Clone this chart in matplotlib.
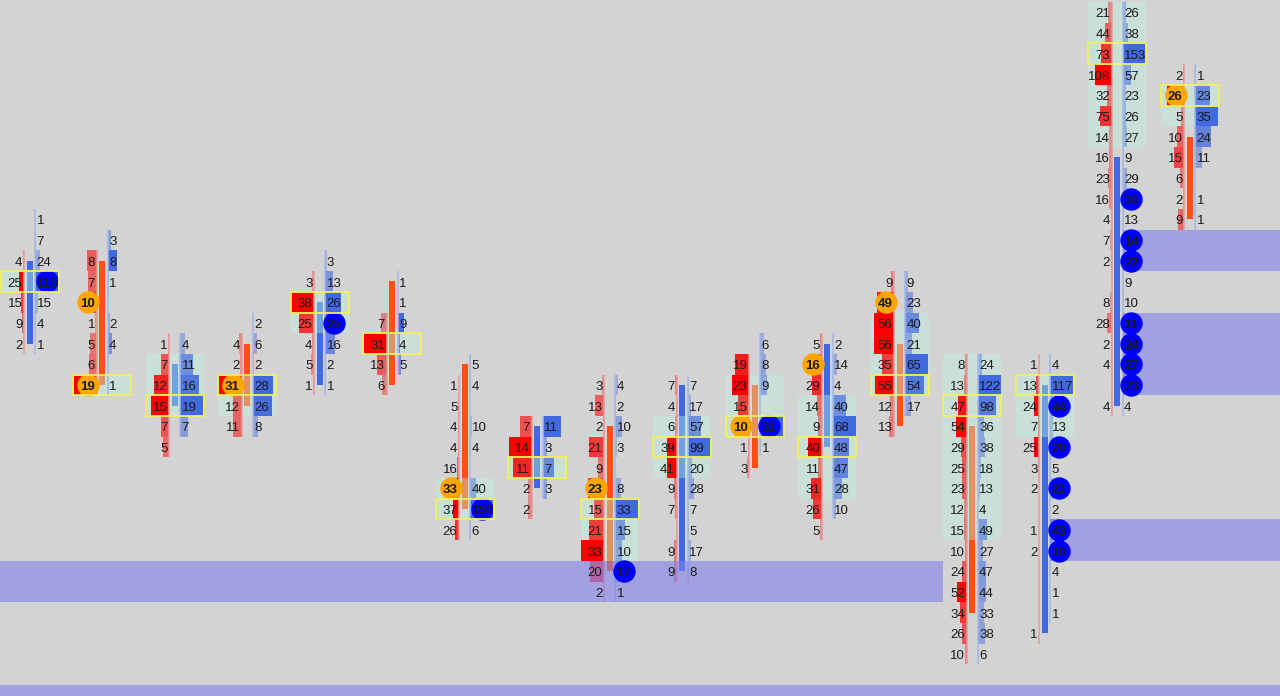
import numpy as np
import matplotlib.pyplot as plt
from matplotlib.patches import Rectangle

plt.rcParams['font.family'] = ['Liberation Sans', 'DejaVu Sans']

# footprint candles, price in ticks, rows listed from the high downwards
highs = [90, 89, 84, 85, 88, 87, 83, 80, 82, 82, 84, 84, 87, 83, 83, 100, 97]
bids = [
    [0, 0, 4, 25, 15, 9, 2],
    [0, 8, 7, 10, 1, 5, 6, 19],
    [1, 7, 12, 15, 7, 5],
    [0, 4, 2, 31, 12, 11],
    [0, 3, 38, 25, 4, 5, 1],
    [0, 0, 7, 31, 13, 6],
    [0, 1, 5, 4, 4, 16, 33, 37, 26],
    [7, 14, 11, 2, 2],
    [3, 13, 2, 21, 9, 23, 15, 21, 33, 20, 2],
    [7, 4, 6, 39, 41, 9, 7, 0, 9, 9],
    [0, 19, 23, 15, 10, 1, 3],
    [5, 16, 29, 14, 9, 40, 11, 31, 26, 5],
    [9, 49, 56, 56, 35, 55, 12, 13],
    [8, 13, 47, 54, 29, 25, 23, 12, 15, 10, 24, 52, 34, 26, 10],
    [1, 13, 24, 7, 25, 3, 2, 0, 1, 2, 0, 0, 0, 1],
    [21, 44, 73, 108, 32, 75, 14, 16, 23, 16, 4, 7, 2, 0, 8, 28, 2, 4, 0, 4],
    [2, 26, 5, 10, 15, 6, 2, 9],
]
asks = [
    [1, 7, 24, 113, 15, 4, 1],
    [3, 8, 1, 0, 2, 4, 0, 1],
    [4, 11, 16, 19, 7, 0],
    [2, 6, 2, 28, 26, 8],
    [3, 13, 26, 25, 16, 2, 1],
    [1, 1, 9, 4, 5, 0],
    [5, 4, 0, 10, 4, 0, 40, 150, 6],
    [11, 3, 7, 3, 0],
    [4, 2, 10, 3, 0, 8, 33, 15, 10, 17, 1],
    [7, 17, 57, 99, 20, 28, 7, 5, 17, 8],
    [6, 8, 9, 0, 31, 1, 0],
    [2, 14, 4, 40, 68, 48, 47, 28, 10, 0],
    [9, 23, 40, 21, 65, 54, 17, 0],
    [24, 122, 98, 36, 38, 18, 13, 4, 49, 27, 47, 44, 33, 38, 6],
    [4, 117, 44, 13, 20, 5, 21, 2, 43, 10, 4, 1, 1, 0],
    [26, 38, 153, 57, 23, 26, 27, 9, 29, 34, 13, 14, 22, 9, 10, 11, 24, 27, 23, 4],
    [1, 23, 35, 24, 11, 0, 1, 1],
]
opens = [84, 88, 81, 84, 82, 87, 83, 77, 80, 73, 82, 79, 84, 80, 70, 81, 94]
closes = [88, 82, 83, 81, 86, 82, 76, 80, 73, 82, 78, 84, 80, 71, 82, 93, 90]
va_high = [87, 82, 83, 82, 86, 84, 77, 78, 76, 80, 82, 81, 85, 83, 82, 100, 96]
va_low = [87, 82, 81, 81, 85, 84, 76, 78, 74, 78, 80, 77, 82, 75, 80, 94, 95]

# imbalance zones: top, bottom, first candle (None = off screen), last candle (None = open)
zone_top = [73, 67, 89, 85, 75]
zone_bottom = [72, 66, 88, 82, 74]
zone_start = [None, None, 15, 15, 14]
zone_end = [13, None, None, None, None]

BG = '#d3d3d3'
fig = plt.figure(figsize=(12.8, 6.96), dpi=100)
fig.patch.set_facecolor(BG)
ax = fig.add_axes([0, 0, 1, 1])
ax.set_facecolor(BG)
xmin, xmax = -0.407, 17.248
ax.set_xlim(xmin, xmax)
ax.set_ylim(66.97, 100.60)
ax.axis('off')

px = 1 / 72.5       # one pixel in candle units
half = 0.4          # half width of a cell
line_off = 5.5 * px
bar_max = 23 * px
txt_dy = 0.1        # nudge digits down to sit in the middle of the row

for i in range(len(highs)):
    b = np.array(bids[i])
    a = np.array(asks[i])
    prices = highs[i] - np.arange(len(b))
    vmax = max(b.max(), a.max())

    # candle body
    up = closes[i] > opens[i]
    lo, hi = sorted((opens[i], closes[i]))
    ax.add_patch(Rectangle((i - 3 * px, lo), 6 * px, hi - lo,
                           color='#4169e1' if up else '#ff4f14', lw=0, zorder=1))

    # value area
    ax.add_patch(Rectangle((i - half, va_low[i] - 0.5), 2 * half, va_high[i] - va_low[i] + 1,
                           color=(0.72, 0.965, 0.87), alpha=0.4, lw=0, zorder=2))

    # volume bars
    ax.barh(prices, -b / vmax * bar_max, height=1, left=i - line_off,
            color=[(1, 0, 0, 0.25 + 0.75 * v / b.max()) for v in b], lw=0, zorder=3)
    ax.barh(prices, a / vmax * bar_max, height=1, left=i + line_off,
            color=[(0.255, 0.41, 0.88, 0.25 + 0.75 * v / a.max()) for v in a], lw=0, zorder=3)

    # thin lines for each side
    nz = prices[b > 0]
    ax.vlines(i - line_off, nz.min() - 0.5, nz.max() + 0.5, color='#e89898', lw=1.1, zorder=4)
    nz = prices[a > 0]
    ax.vlines(i + line_off, nz.min() - 0.5, nz.max() + 0.5, color='#a8b8e6', lw=1.1, zorder=4)

    # numbers and diagonal imbalances (only against a row inside the candle)
    for k, p in enumerate(prices):
        if b[k] > 0:
            imb = k > 0 and b[k] >= 10 and b[k] >= 5 * a[k - 1]
            if imb:
                ax.scatter(i - 7 * px - 3.5 * px * len(str(b[k])), p, s=260,
                           color='#ffa500', lw=0, zorder=6)
            ax.text(i - 7 * px, p - txt_dy, str(b[k]), ha='right', va='center', fontsize=9.5,
                    color='#1a1a1a', fontweight='bold' if imb else 'normal', zorder=7)
        if a[k] > 0:
            imb = k + 1 < len(b) and a[k] >= 10 and a[k] >= 5 * b[k + 1]
            if imb:
                ax.scatter(i + 7 * px + 3.5 * px * len(str(a[k])), p, s=260,
                           color='#0000ff', lw=0, zorder=6)
            ax.text(i + 7 * px, p - txt_dy, str(a[k]), ha='left', va='center', fontsize=9.5,
                    color='#1a1a1a', fontweight='bold' if imb else 'normal', zorder=7)

    # point of control
    tot = b + a
    poc = prices[len(tot) - 1 - np.argmax(tot[::-1])]
    ax.add_patch(Rectangle((i - half, poc - 0.5), 2 * half, 1, fill=False,
                           ec='#f2f25a', lw=1.3, zorder=8))

# imbalance zones
for top, bot, s, e in zip(zone_top, zone_bottom, zone_start, zone_end):
    x0 = xmin if s is None else s + line_off
    x1 = xmax if e is None else e - half
    ax.add_patch(Rectangle((x0, bot - 0.5), x1 - x0, top - bot + 1,
                           color=(0.5, 0.5, 0.92), alpha=0.6, lw=0, zorder=5))

fig.savefig('out.png', dpi=100, facecolor=fig.get_facecolor())
